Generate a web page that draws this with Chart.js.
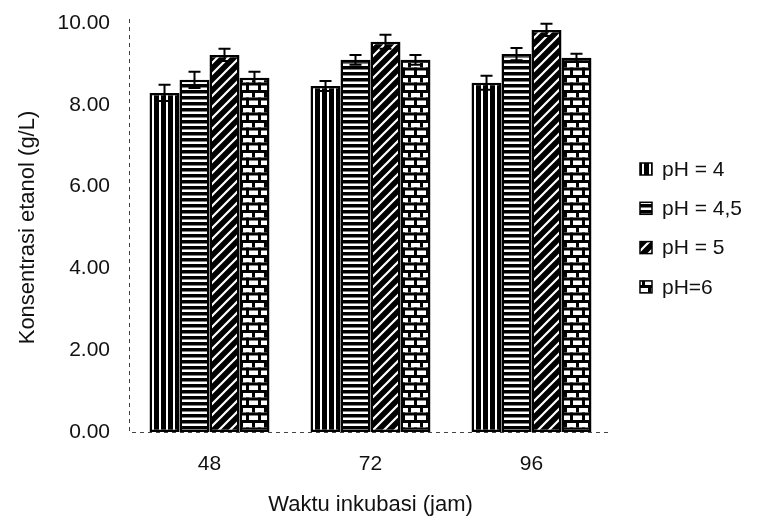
<!DOCTYPE html>
<html>
<head>
<meta charset="utf-8">
<script src="https://cdn.jsdelivr.net/npm/chart.js@4/dist/chart.umd.min.js"></script>
<style>
  html, body { margin: 0; padding: 0; background: #fff; }
  #wrap { width: 759px; height: 522px; position: relative; }
</style>
</head>
<body>
<div id="wrap"><canvas id="bar-chart"></canvas></div>
<script>
// incubation time (jam) on the x axis
const categories = ['48', '72', '96'];
const seriesNames = ['pH = 4', 'pH = 4,5', 'pH = 5', 'pH=6'];

// ethanol concentration (g/L)
const ph4 = [8.29, 8.46, 8.54];
const ph45 = [8.61, 9.10, 9.24];
const ph5 = [9.22, 9.54, 9.83];
const ph6 = [8.66, 9.10, 9.15];

// error bar half-lengths
const ph4Err = [0.20, 0.12, 0.17];
const ph45Err = [0.20, 0.12, 0.15];
const ph5Err = [0.15, 0.17, 0.15];
const ph6Err = [0.15, 0.12, 0.10];

const yMin = 0;
const yMax = 10;
const yStep = 2;

// fill patterns like the printed hatching
function makePattern(kind) {
    const c = document.createElement('canvas');
    const p = c.getContext('2d');
    if (kind === 'vertical') {
        c.width = 7; c.height = 7;
        p.fillStyle = '#000'; p.fillRect(0, 0, 7, 7);
        p.fillStyle = '#fff'; p.fillRect(5, 0, 2, 7);
    } else if (kind === 'horizontal') {
        c.width = 6; c.height = 6;
        p.fillStyle = '#fff'; p.fillRect(0, 0, 6, 6);
        p.fillStyle = '#000'; p.fillRect(0, 0, 6, 3.5);
    } else if (kind === 'diagonal') {
        c.width = 11; c.height = 11;
        p.fillStyle = '#000'; p.fillRect(0, 0, 11, 11);
        p.strokeStyle = '#fff'; p.lineWidth = 2.2;
        p.beginPath();
        p.moveTo(0, 11); p.lineTo(11, 0);
        p.moveTo(-1, 1); p.lineTo(1, -1);
        p.moveTo(10, 12); p.lineTo(12, 10);
        p.stroke();
    } else {
        c.width = 12; c.height = 15;
        p.fillStyle = '#fff'; p.fillRect(0, 0, 12, 15);
        p.fillStyle = '#000';
        p.fillRect(0, 0, 12, 3);
        p.fillRect(0, 7.5, 12, 3);
        p.fillRect(0, 0, 3, 7.5);
        p.fillRect(6, 7.5, 3, 7.5);
    }
    return p.createPattern(c, 'repeat');
}

const patterns = [makePattern('vertical'), makePattern('horizontal'), makePattern('diagonal'), makePattern('brick')];
const values = [ph4, ph45, ph5, ph6];
const errors = [ph4Err, ph45Err, ph5Err, ph6Err];

Chart.defaults.font.family = "'Liberation Sans', Arial, sans-serif";
Chart.defaults.color = '#111';

const errorBars = {
    id: 'errorBars',
    afterDatasetsDraw(chart) {
        const ctx = chart.ctx;
        const y = chart.scales.y;
        chart.data.datasets.forEach((ds, i) => {
            chart.getDatasetMeta(i).data.forEach((bar, j) => {
                const top = y.getPixelForValue(ds.data[j] + ds.errors[j]);
                const bot = y.getPixelForValue(ds.data[j] - ds.errors[j]);
                ctx.save();
                ctx.strokeStyle = '#000';
                ctx.lineWidth = 2;
                ctx.beginPath();
                ctx.moveTo(bar.x, top); ctx.lineTo(bar.x, bot);
                ctx.moveTo(bar.x - 6, top); ctx.lineTo(bar.x + 6, top);
                ctx.moveTo(bar.x - 6, bot); ctx.lineTo(bar.x + 6, bot);
                ctx.stroke();
                ctx.restore();
            });
        });
    }
};

// dashed axis lines, as in the scan
const dashedAxes = {
    id: 'dashedAxes',
    beforeDatasetsDraw(chart) {
        const {ctx, chartArea: a} = chart;
        ctx.save();
        ctx.strokeStyle = '#444';
        ctx.lineWidth = 1;
        ctx.setLineDash([4, 4]);
        ctx.beginPath();
        ctx.moveTo(a.left + 0.5, a.top - 4); ctx.lineTo(a.left + 0.5, a.bottom + 0.5);
        ctx.lineTo(a.right, a.bottom + 0.5);
        ctx.stroke();
        ctx.restore();
    }
};

const sideLegend = {
    id: 'sideLegend',
    afterDraw(chart) {
        const ctx = chart.ctx;
        ctx.save();
        ctx.font = "21px 'Liberation Sans', Arial, sans-serif";
        ctx.textBaseline = 'middle';
        chart.data.datasets.forEach((ds, i) => {
            const cy = 169 + i * 39.3;
            ctx.fillStyle = ds.backgroundColor;
            ctx.fillRect(640, cy - 6, 12, 12);
            ctx.strokeStyle = '#000';
            ctx.lineWidth = 1.5;
            ctx.strokeRect(640, cy - 6, 12, 12);
            ctx.fillStyle = '#111';
            ctx.fillText(ds.label, 662, cy + 1);
        });
        ctx.restore();
    }
};

const ctx = document.getElementById('bar-chart').getContext('2d');

new Chart(ctx, {
    type: 'bar',
    data: {
        labels: categories,
        datasets: seriesNames.map((name, i) => ({
            label: name,
            data: values[i],
            errors: errors[i],
            backgroundColor: patterns[i],
            borderColor: '#000',
            borderWidth: 2.5,
            borderSkipped: false,
            barPercentage: 1,
            categoryPercentage: 0.745
        }))
    },
    options: {
        responsive: true,
        maintainAspectRatio: false,
        animation: false,
        devicePixelRatio: 1,
        layout: {
            autoPadding: false,
            padding: { top: 23, right: 147, bottom: 0, left: 0 }
        },
        plugins: {
            legend: { display: false },
            tooltip: { enabled: false }
        },
        scales: {
            x: {
                grid: { display: false, drawTicks: false },
                border: { display: false },
                ticks: { font: { size: 21 }, padding: 20, color: '#111' },
                title: {
                    display: true,
                    text: 'Waktu inkubasi (jam)',
                    font: { size: 22 },
                    color: '#111',
                    padding: { top: 0, bottom: 4 }
                },
                afterFit(scale) { scale.height = 90; }
            },
            y: {
                min: yMin,
                max: yMax,
                grid: { display: false, drawTicks: false },
                border: { display: false },
                ticks: {
                    stepSize: yStep,
                    font: { size: 21 },
                    padding: 19,
                    color: '#111',
                    callback: (v) => v.toFixed(2)
                },
                title: {
                    display: true,
                    text: 'Konsentrasi etanol (g/L)',
                    font: { size: 22 },
                    color: '#111',
                    padding: { top: 15, bottom: 0 }
                },
                afterFit(scale) {
                    scale.width = 129;
                    scale.paddingTop = 0;
                    scale.paddingBottom = 0;
                }
            }
        }
    },
    plugins: [dashedAxes, errorBars, sideLegend]
});
</script>
</body>
</html>
